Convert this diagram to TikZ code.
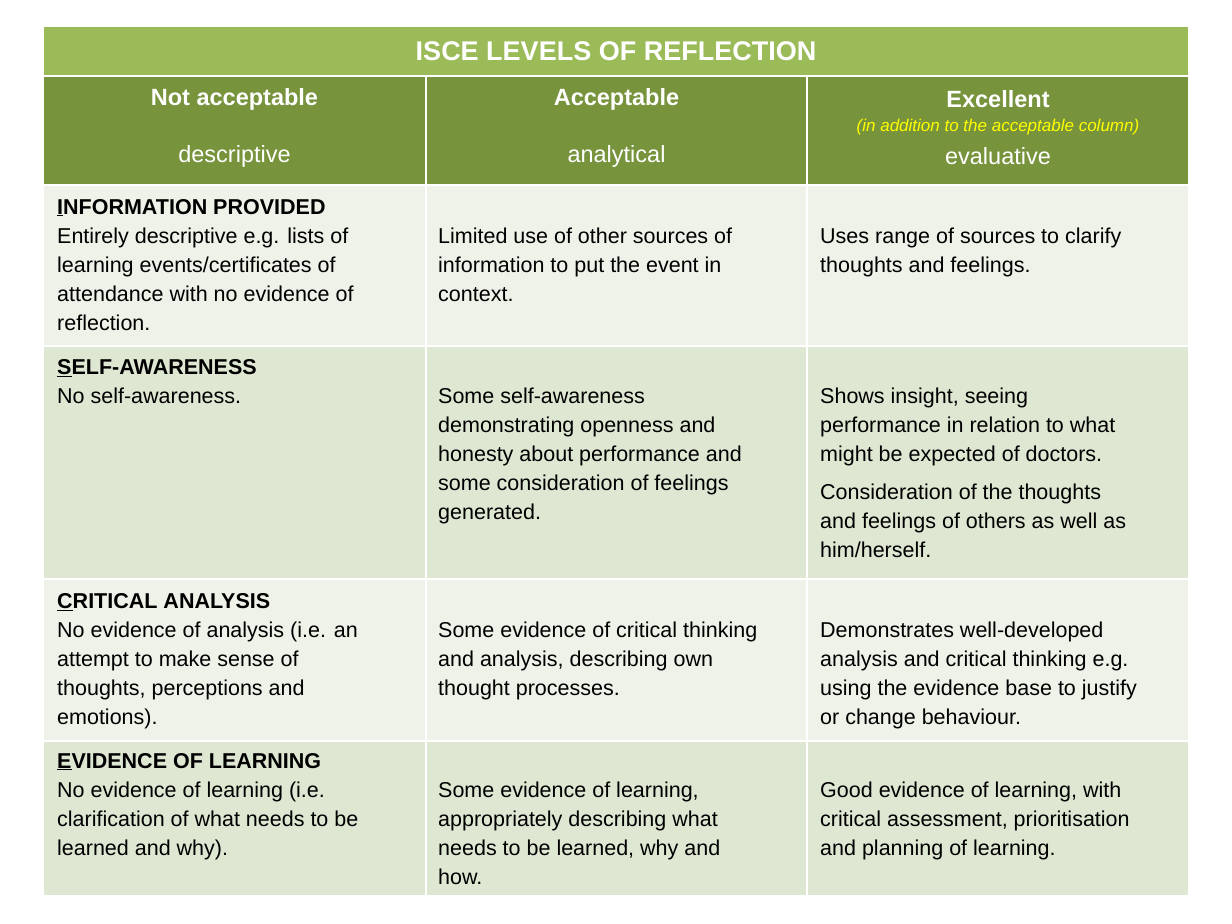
\documentclass[tikz,border=0pt]{standalone}
\usepackage{fontspec}
\setmainfont{Liberation Sans}
\begin{document}
\begin{tikzpicture}[x=1pt,y=-1pt,
  cellL/.style={fill={rgb,255:red,238;green,242;blue,232},draw=none},
  cellD/.style={fill={rgb,255:red,221;green,231;blue,210},draw=none},
  hdr/.style={fill={rgb,255:red,119;green,147;blue,60},draw=none},
  ttl/.style={fill={rgb,255:red,155;green,187;blue,89},draw=none},
  body/.style={anchor=north west,inner sep=0pt,align=left,font=\fontsize{21.5}{29}\selectfont},
  htext/.style={text=white,inner sep=0pt}]
\useasboundingbox[fill=white] (0,0) rectangle (1232,924);
\fill[ttl] (44,27) rectangle (1188,75);
\node[htext,font=\fontsize{27}{30}\selectfont\bfseries] (title) at (616,51) {ISCE LEVELS OF REFLECTION};
\foreach \a/\b [count=\i] in {44/425,427/806,808/1188}{
  \fill[hdr] (\a,77) rectangle (\b,184);
  \fill[cellL] (\a,186) rectangle (\b,345);
  \fill[cellD] (\a,347) rectangle (\b,578);
  \fill[cellL] (\a,580) rectangle (\b,740);
  \fill[cellD] (\a,742) rectangle (\b,895);
}
\node[htext,font=\fontsize{23.5}{26}\selectfont\bfseries] (h1) at (234.5,99) {Not acceptable};
\node[htext,font=\fontsize{23.5}{26}\selectfont] (h1b) at (234.5,156) {descriptive};
\node[htext,font=\fontsize{23.5}{26}\selectfont\bfseries] (h2) at (616.5,99) {Acceptable};
\node[htext,font=\fontsize{23.5}{26}\selectfont] (h2b) at (616.5,156) {analytical};
\node[htext,font=\fontsize{23.5}{26}\selectfont\bfseries] (h3) at (998,99) {Excellent};
\node[inner sep=0pt,text={rgb,255:red,255;green,255;blue,0},font=\fontsize{17}{20}\selectfont\itshape] (h3n) at (998,127) {(in addition to the acceptable column)};
\node[htext,font=\fontsize{23.5}{26}\selectfont] (h3b) at (998,156) {evaluative};
% row 1
\node[body] (r1a) at (57,199) {\textbf{\underline{I}NFORMATION PROVIDED}\\Entirely descriptive e.g. lists of\\learning events/certificates of\\attendance with no evidence of\\reflection.};
\node[body] (r1b) at (438,228) {Limited use of other sources of\\information to put the event in\\context.};
\node[body] (r1c) at (820,228) {Uses range of sources to clarify\\thoughts and feelings.};
% row 2
\node[body] (r2a) at (57,359) {\textbf{\underline{S}ELF-AWARENESS}\\No self-awareness.};
\node[body] (r2b) at (438,388) {Some self-awareness\\demonstrating openness and\\honesty about performance and\\some consideration of feelings\\generated.};
\node[body] (r2c) at (820,388) {Shows insight, seeing\\performance in relation to what\\might be expected of doctors.};
\node[body] (r2d) at (820,484) {Consideration of the thoughts\\and feelings of others as well as\\him/herself.};
% row 3
\node[body] (r3a) at (57,593) {\textbf{\underline{C}RITICAL ANALYSIS}\\No evidence of analysis (i.e. an\\attempt to make sense of\\thoughts, perceptions and\\emotions).};
\node[body] (r3b) at (438,622) {Some evidence of critical thinking\\and analysis, describing own\\thought processes.};
\node[body] (r3c) at (820,622) {Demonstrates well-developed\\analysis and critical thinking e.g.\\using the evidence base to justify\\or change behaviour.};
% row 4
\node[body] (r4a) at (57,753) {\textbf{\underline{E}VIDENCE OF LEARNING}\\No evidence of learning (i.e.\\clarification of what needs to be\\learned and why).};
\node[body] (r4b) at (438,782) {Some evidence of learning,\\appropriately describing what\\needs to be learned, why and\\how.};
\node[body] (r4c) at (820,782) {Good evidence of learning, with\\critical assessment, prioritisation\\and planning of learning.};
\end{tikzpicture}
\end{document}
